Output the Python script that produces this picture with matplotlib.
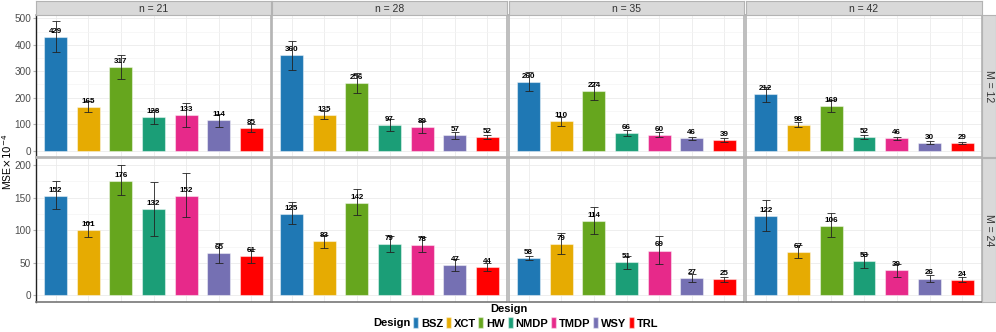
import numpy as np
import matplotlib
matplotlib.use("Agg")
from matplotlib import pyplot as plt
from matplotlib.patches import Patch

plt.rcParams['font.family'] = ['Liberation Sans', 'DejaVu Sans']

designs = ["BSZ", "XCT", "HW", "NMDP", "TMDP", "WSY", "TRL"]
colors = ["#1F78B4", "#E6AB02", "#66A61E", "#1B9E77", "#E7298A", "#7570B3", "#FF0000"]
n_values = [21, 28, 35, 42]
m_values = [12, 24]

# MSE x 1e-4, one row per n
mse_m12 = [[429, 165, 317, 128, 133, 114, 85],
           [360, 135, 256, 97, 89, 57, 52],
           [260, 110, 224, 66, 60, 46, 39],
           [212, 98, 169, 52, 46, 30, 29]]
lo_m12 = [[372, 144, 270, 101, 88, 89, 69],
          [305, 119, 219, 73, 66, 44, 44],
          [224, 94, 190, 54, 51, 39, 31],
          [185, 88, 146, 44, 40, 25, 24]]
hi_m12 = [[488, 186, 361, 155, 178, 139, 101],
          [416, 151, 294, 121, 110, 70, 60],
          [297, 126, 258, 78, 69, 53, 47],
          [239, 108, 192, 60, 52, 35, 34]]

mse_m24 = [[152, 101, 176, 132, 152, 65, 61],
           [125, 83, 142, 79, 78, 47, 44],
           [58, 79, 114, 51, 69, 27, 25],
           [122, 67, 106, 53, 39, 26, 24]]
lo_m24 = [[132, 89, 154, 92, 120, 50, 50],
          [110, 73, 123, 66, 66, 38, 38],
          [55, 64, 94, 41, 49, 21, 21],
          [99, 57, 89, 42, 28, 20, 20]]
hi_m24 = [[176, 113, 201, 174, 188, 81, 72],
          [143, 93, 163, 92, 90, 56, 50],
          [61, 96, 136, 61, 92, 33, 29],
          [147, 77, 126, 63, 49, 32, 28]]

rows = [(mse_m12, lo_m12, hi_m12, 100), (mse_m24, lo_m24, hi_m24, 50)]

W, H = 996, 332
fig = plt.figure(figsize=(W / 100, H / 100), dpi=100)


def box(x0, y0, x1, y1):
    # pixel box (top-left origin) -> figure fraction rect
    return [x0 / W, 1 - y1 / H, (x1 - x0) / W, (y1 - y0) / H]


col_x = [(36, 271), (272, 507), (509, 744), (746, 982)]
row_y = [(15, 157), (158, 302)]
x = np.arange(1, len(designs) + 1)

for r, (vals, lo, hi, step) in enumerate(rows):
    top = np.max(hi) * 1.05
    for c, n in enumerate(n_values):
        ax = fig.add_axes(box(col_x[c][0], row_y[r][0], col_x[c][1], row_y[r][1]))
        v = np.array(vals[c])
        err = np.array([v - np.array(lo[c]), np.array(hi[c]) - v])
        ax.bar(x, v, width=0.7, color=colors, edgecolor=(1, 1, 1, 0.45), linewidth=0.8, zorder=2)
        ax.errorbar(x, v, yerr=err, fmt='none', ecolor='#222222', elinewidth=0.6,
                    capsize=3, capthick=0.6, zorder=3)
        for xi, vi in zip(x, v):
            ax.annotate(f"{vi}", (xi, vi), xytext=(0, 1.5), textcoords='offset points',
                        ha='center', va='bottom', fontsize=5.8, fontweight='bold', zorder=4)
        ax.set_xlim(0.4, 7.6)
        ax.set_ylim(-0.05 * np.max(hi), top)
        ax.set_xticks(x)
        ax.set_xticklabels([])
        ax.tick_params(axis='x', length=0)
        ax.set_yticks(np.arange(0, top, step))
        ax.set_yticks(np.arange(step / 2, top, step), minor=True)
        ax.tick_params(axis='y', which='minor', length=0)
        ax.tick_params(axis='y', which='major', length=2, color='#B3B3B3',
                       labelsize=7.2, labelcolor='#4D4D4D', pad=1.5)
        if c > 0:
            ax.set_yticklabels([])
            ax.tick_params(axis='y', which='major', length=0)
        ax.grid(which='major', color='#EBEBEB', linewidth=0.6, zorder=0)
        ax.grid(which='minor', axis='y', color='#F4F4F4', linewidth=0.5, zorder=0)
        ax.set_axisbelow(True)
        for s in ax.spines.values():
            s.set_color('#B3B3B3')
            s.set_linewidth(1.2)
        if c == 0:
            ax.spines['left'].set_color('#222222')
            ax.spines['left'].set_linewidth(1.0)
        if r == 1:
            ax.spines['bottom'].set_color('#777777')

        # top strips
        if r == 0:
            sa = fig.add_axes(box(col_x[c][0], 1, col_x[c][1], 15))
            sa.set_facecolor('#D9D9D9')
            sa.set_xticks([])
            sa.set_yticks([])
            for s in sa.spines.values():
                s.set_color('#B3B3B3')
            sa.text(0.5, 0.45, f"n = {n}", ha='center', va='center', fontsize=7.5,
                    color='#333333', transform=sa.transAxes)

    # right strips
    sa = fig.add_axes(box(982, row_y[r][0], 996, row_y[r][1]))
    sa.set_facecolor('#D9D9D9')
    sa.set_xticks([])
    sa.set_yticks([])
    for s in sa.spines.values():
        s.set_color('#B3B3B3')
    sa.text(0.5, 0.5, f"M = {m_values[r]}", ha='center', va='center', rotation=-90,
            fontsize=7.5, color='#333333', transform=sa.transAxes)

fig.text(7 / W, 1 - 162 / H, r"MSE$\times 10^{-4}$", rotation=90, ha='center', va='center',
         fontsize=7.5)
fig.text(509 / W, 1 - 309 / H, "Design", ha='center', va='center', fontsize=8, fontweight='bold')

handles = [Patch(facecolor=col, edgecolor=(1, 1, 1, 0.45), label=d) for d, col in zip(designs, colors)]
fig.text(411 / W, 1 - 323 / H, "Design", ha='right', va='center', fontsize=8, fontweight='bold')
leg = fig.legend(handles=handles, ncol=7, loc='center left', bbox_to_anchor=(413 / W, 1 - 323 / H),
                 frameon=False, handlelength=0.45, handleheight=1.1, handletextpad=0.25,
                 columnspacing=0.25, borderpad=0, borderaxespad=0,
                 prop={'size': 8, 'weight': 'bold'})

fig.savefig("out.png", dpi=100)
